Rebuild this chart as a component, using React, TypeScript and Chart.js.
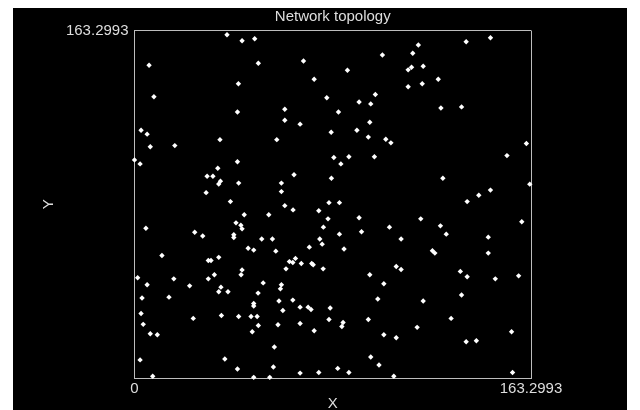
import React, { useEffect, useRef } from "react";
import { Chart, registerables } from "chart.js";

Chart.register(...registerables);

const AXIS_MAX = 163.2993;
const TICK_VALUES = [0, AXIS_MAX];
const X_TICK_LABELS = ["0", "163.2993"];
const Y_TICK_LABELS = ["", "163.2993"];
const TITLE = "Network topology";
const X_TITLE = "X";
const Y_TITLE = "Y";

const nodeX = [
  38.1, 44.3, 49.5, 6.0, 51.0, 42.8, 8.0, 42.4, 2.7, 5.2,
  35.2, 69.6, 102.1, 87.7, 74.0, 79.2, 99.2, 92.5, 97.3, 61.9,
  84.0, 61.9, 68.2, 96.9, 81.0, 91.6, 58.6, 96.3, 103.5, 105.6,
  116.9, 136.6, 146.6, 114.6, 114.1, 112.7, 118.9, 125.1, 112.7, 118.5,
  126.2, 134.7, 161.4, 6.5, 16.6, 2.3, 34.3, 42.4, 29.9, 32.3,
  35.4, 34.7, 42.9, 29.5, 39.5, 45.2, 41.8, 43.8, 44.3, 4.7,
  24.8, 28.1, 40.9, 40.9, 52.4, 46.8, 49.1, 11.3, 82.1, 88.3,
  98.8, 85.0, 65.7, 81.1, 60.5, 60.5, 80.1, 84.4, 61.9, 65.3,
  75.9, 55.3, 79.7, 92.5, 77.8, 105.0, 93.5, 84.4, 56.8, 76.3,
  77.3, 72.0, 86.3, 58.2, 66.3, 153.4, 127.0, 162.8, 146.6, 141.8,
  137.0, 117.9, 159.5, 126.0, 128.4, 109.8, 145.7, 122.7, 123.7, 145.7,
  30.4, 31.5, 34.7, 44.3, 43.9, 1.3, 16.2, 30.4, 32.9, 5.2,
  22.7, 53.0, 35.6, 34.7, 38.5, 50.9, 3.1, 14.2, 49.1, 49.1,
  2.7, 35.8, 42.9, 48.0, 50.5, 24.2, 3.6, 51.0, 48.5, 6.5,
  9.4, 2.3, 37.2, 42.4, 7.5, 49.1, 63.8, 65.2, 68.7, 73.0,
  73.6, 62.4, 77.7, 96.9, 107.8, 102.7, 60.5, 60.1, 100.2, 59.5,
  65.2, 68.2, 71.5, 72.7, 80.6, 61.1, 80.1, 96.3, 85.9, 85.4,
  59.1, 68.2, 74.0, 102.7, 107.8, 57.6, 97.3, 100.7, 57.2, 68.2,
  75.9, 83.7, 88.3, 55.7, 106.8, 109.8, 134.2, 137.0, 148.6, 158.2,
  134.7, 118.9, 130.4, 116.4, 155.3, 136.6, 140.8, 155.7, 0.0,
];

const nodeY = [
  161.3, 158.5, 159.4, 147.0, 147.9, 138.3, 132.2, 125.0, 116.4, 114.6,
  112.0, 149.0, 151.8, 144.6, 140.4, 131.7, 133.2, 129.7, 128.8, 126.3,
  125.0, 121.1, 119.3, 120.2, 115.5, 116.4, 112.0, 113.2, 112.2, 110.5,
  156.5, 158.0, 159.9, 152.6, 146.0, 144.8, 146.5, 140.4, 136.9, 138.3,
  126.9, 127.4, 110.2, 108.7, 109.2, 100.6, 98.6, 101.6, 94.8, 94.8,
  92.5, 91.2, 91.6, 87.1, 82.9, 76.7, 72.9, 71.8, 70.1, 70.4,
  68.5, 66.7, 67.3, 66.0, 65.3, 61.0, 60.1, 57.6, 103.6, 104.0,
  104.0, 100.6, 95.5, 93.9, 91.6, 87.6, 82.4, 82.4, 81.0, 79.0,
  78.6, 76.7, 74.8, 75.3, 70.9, 70.9, 68.7, 67.6, 65.3, 65.3,
  62.9, 61.5, 60.6, 59.6, 56.2, 104.5, 93.9, 91.1, 88.3, 85.9,
  82.9, 74.8, 73.4, 71.5, 67.6, 65.3, 66.2, 59.8, 58.7, 58.7,
  55.2, 55.2, 56.7, 50.8, 48.5, 47.1, 46.6, 46.6, 48.5, 43.8,
  43.3, 44.7, 42.7, 40.5, 40.5, 39.9, 37.6, 38.0, 35.0, 33.8,
  30.3, 29.4, 28.9, 28.9, 28.9, 28.0, 25.2, 24.7, 21.7, 20.8,
  20.3, 8.5, 8.9, 4.2, 0.8, 0.3, 54.7, 54.3, 53.8, 53.8,
  53.2, 51.3, 51.3, 48.5, 52.4, 44.3, 43.8, 41.9, 37.1, 36.2,
  36.6, 33.3, 33.3, 32.2, 32.9, 31.7, 27.5, 27.5, 26.1, 24.2,
  25.0, 25.6, 22.2, 20.3, 18.9, 14.6, 9.9, 6.1, 5.2, 2.3,
  2.6, 4.5, 2.6, 0.3, 0.8, 51.0, 50.1, 47.6, 46.6, 48.0,
  39.0, 36.2, 28.0, 23.8, 21.7, 17.0, 17.5, 2.6, 102.5,
];

export default function App() {
  const ref = useRef<HTMLCanvasElement>(null);

  useEffect(() => {
    const textColor = "#dedede";
    const frameColor = "#bdbdbd";
    const font = { family: "'Liberation Sans', Arial, sans-serif", size: 15 };
    const chart = new Chart(ref.current as HTMLCanvasElement, {
      type: "scatter",
      data: {
        datasets: [
          {
            data: nodeX.map((x, i) => ({ x, y: nodeY[i] })),
            pointStyle: "rectRot",
            pointRadius: 2.7,
            pointHoverRadius: 2.7,
            pointBackgroundColor: "#ffffff",
            pointBorderWidth: 0,
            clip: false,
          } as any,
        ],
      },
      options: {
        animation: false,
        responsive: false,
        devicePixelRatio: 1,
        layout: { padding: { top: 0, right: 96, bottom: 0, left: 0 } },
        plugins: {
          legend: { display: false },
          tooltip: { enabled: false },
          title: {
            display: true,
            text: TITLE,
            color: textColor,
            font: { ...font, weight: "normal" },
            padding: { top: 0, bottom: 4.5 },
            fullSize: false,
          },
        },
        scales: {
          x: {
            type: "linear",
            min: 0,
            max: AXIS_MAX,
            afterBuildTicks: (s: any) => {
              s.ticks = TICK_VALUES.map((value) => ({ value }));
            },
            afterFit: (s: any) => {
              s.height = 32;
            },
            ticks: {
              color: textColor,
              font,
              padding: 2,
              maxRotation: 0,
              autoSkip: false,
              callback: (_v: any, i: number) => X_TICK_LABELS[i],
            },
            grid: { color: frameColor, drawTicks: false, lineWidth: 1 },
            border: { color: frameColor },
            title: {
              display: true,
              text: X_TITLE,
              color: textColor,
              font: { ...font, lineHeight: 1 },
              padding: { top: 0, bottom: -1.5 },
            },
          },
          y: {
            type: "linear",
            min: 0,
            max: AXIS_MAX,
            afterBuildTicks: (s: any) => {
              s.ticks = TICK_VALUES.map((value) => ({ value }));
            },
            afterFit: (s: any) => {
              s.width = 121.5;
            },
            ticks: {
              color: textColor,
              font,
              padding: 6,
              autoSkip: false,
              callback: (_v: any, i: number) => Y_TICK_LABELS[i],
            },
            grid: { color: frameColor, drawTicks: false, lineWidth: 1 },
            border: { color: frameColor },
            title: {
              display: true,
              text: Y_TITLE,
              color: textColor,
              font: { ...font, lineHeight: 1 },
              padding: { top: 28, bottom: 0 },
            },
          },
        },
      } as any,
    });
    return () => chart.destroy();
  }, []);

  return (
    <div style={{ marginLeft: 5, width: 614, height: 402, background: "#000" }}>
      <canvas ref={ref} width={614} height={402} style={{ display: "block" }} />
    </div>
  );
}
